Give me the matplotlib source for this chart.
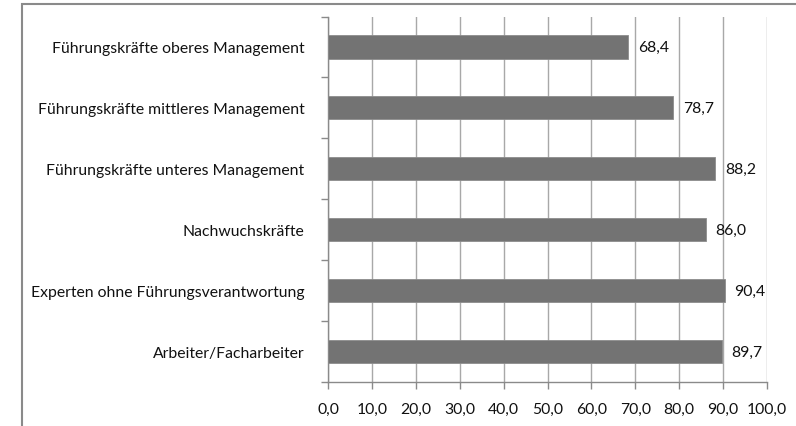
import matplotlib.pyplot as plt
from matplotlib.patches import Rectangle

categories = [
    'Führungskräfte oberes Management',
    'Führungskräfte mittleres Management',
    'Führungskräfte unteres Management',
    'Nachwuchskräfte',
    'Experten ohne Führungsverantwortung',
    'Arbeiter/Facharbeiter',
]
values = [68.4, 78.7, 88.2, 86.0, 90.4, 89.7]
xticks = [0, 10, 20, 30, 40, 50, 60, 70, 80, 90, 100]

plt.rcParams['font.family'] = ['Lato', 'DejaVu Sans']

W, H = 796, 427
fig = plt.figure(figsize=(W / 100, H / 100), dpi=100)

# outer frame of the chart area
fig.patches.append(Rectangle((22 / W, -0.1), 2.0, (H - 5) / H + 0.1,
                             transform=fig.transFigure, fill=False,
                             edgecolor='#8a8a8a', linewidth=1.5))

ax = fig.add_axes([328 / W, (H - 383) / H, (767 - 328) / W, (383 - 17.5) / H])

n = len(categories)
ypos = list(range(n))[::-1]
ax.barh(ypos, values, height=0.38, color='#737373', edgecolor='#8c8c8c',
        linewidth=0.6, zorder=3)

fs = 11.3
for y, v in zip(ypos, values):
    ax.text(v + 2.2, y, f'{v:.1f}'.replace('.', ','), va='center', ha='left',
            fontsize=fs, color='#111111')

ax.set_xlim(0, 100)
ax.set_ylim(-0.5, n - 0.5)
ax.set_xticks(xticks)
ax.set_xticklabels([f'{t:.1f}'.replace('.', ',') for t in xticks],
                   fontsize=fs, color='#111111')
ax.xaxis.grid(True, color='#a8a8a8', linewidth=1.0, zorder=0)

# category labels centred on bars, ticks on band boundaries
ax.set_yticks(ypos)
ax.set_yticklabels(categories, fontsize=fs, color='#111111')
ax.tick_params(axis='y', length=0, pad=17)
ax.set_yticks([i - 0.5 for i in range(n + 1)], minor=True)
ax.tick_params(axis='y', which='minor', length=5, color='#8a8a8a', width=1)
ax.tick_params(axis='x', length=5, color='#8a8a8a', width=1, pad=9)

for s in ['top', 'right']:
    ax.spines[s].set_visible(False)
for s in ['left', 'bottom']:
    ax.spines[s].set_color('#8a8a8a')
    ax.spines[s].set_linewidth(1.0)

fig.savefig('out.png', dpi=100)
